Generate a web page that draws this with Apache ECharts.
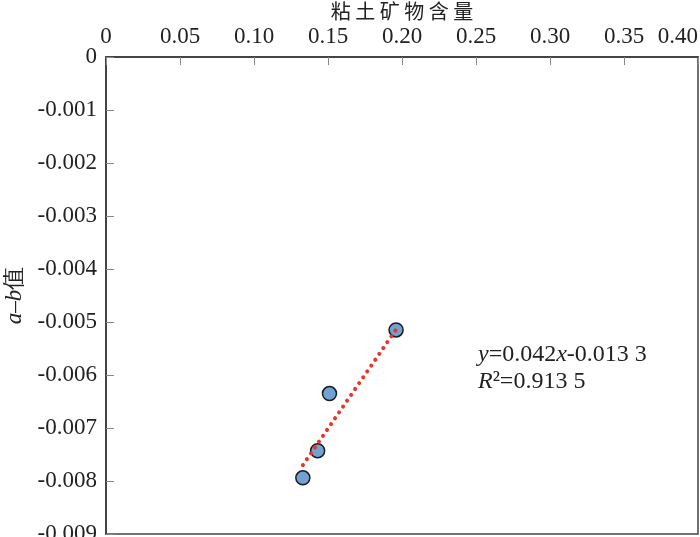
<!DOCTYPE html>
<html>
<head>
<meta charset="utf-8">
<script src="https://cdn.jsdelivr.net/npm/echarts@6/dist/echarts.min.js"></script>
<style>
  html, body { margin: 0; padding: 0; background: #fff; }
  #chart { width: 700px; height: 537px; }
</style>
</head>
<body>
<div id="chart"></div>
<script>
// 粘土矿物含量 (x) 与 a-b 值 (y)
var clayContent = [0.133, 0.143, 0.151, 0.196];
var abValue = [-0.00794, -0.00743, -0.00635, -0.00515];
// 拟合线两端
var trendX = [0.133, 0.197];
var trendY = [-0.0077, -0.0051];
// 刻度
var xTicks = ["0", "0.05", "0.10", "0.15", "0.20", "0.25", "0.30", "0.35", "0.40"];
var yTicks = ["0", "-0.001", "-0.002", "-0.003", "-0.004", "-0.005", "-0.006", "-0.007", "-0.008", "-0.009"];

var serif = "'Liberation Serif', 'DejaVu Serif', serif";
var cjk = "'Noto Sans CJK SC', sans-serif";

var points = clayContent.map(function (x, i) { return [x, abValue[i]]; });
var trend = trendX.map(function (x, i) { return [x, trendY[i]]; });

var myChart = echarts.init(document.getElementById("chart"));
var option = {
  animation: false,
  backgroundColor: "#fff",
  grid: {
    left: 106, top: 57, width: 592, height: 477,
    outerBoundsMode: "none",
    containLabel: false,
    show: true, borderColor: "#444", borderWidth: 1.5, backgroundColor: "transparent"
  },
  xAxis: {
    type: "value",
    position: "top",
    min: 0, max: 0.4, interval: 0.05,
    name: "粘 土 矿 物 含 量",
    nameLocation: "middle",
    nameGap: 36,
    nameMoveOverlap: false,
    nameTextStyle: { fontFamily: cjk, fontSize: 20, color: "#222" },
    axisLine: { show: true, lineStyle: { color: "#444", width: 2 } },
    axisTick: { show: true, inside: true, length: 8, lineStyle: { color: "#888" } },
    splitLine: { show: false },
    axisLabel: {
      margin: 9,
      fontFamily: serif, fontSize: 23, color: "#222",
      alignMaxLabel: "right",
      formatter: function (v) { return xTicks[Math.round(v / 0.05)]; }
    }
  },
  yAxis: {
    type: "value",
    min: -0.009, max: 0, interval: 0.001,
    name: "{i|a}–{i|b}值",
    nameLocation: "middle",
    nameRotate: 90,
    nameGap: 80,
    nameMoveOverlap: false,
    nameTextStyle: {
      fontFamily: serif, fontSize: 23, color: "#222",
      rich: { i: { fontFamily: serif, fontStyle: "italic", fontSize: 23, color: "#222" } }
    },
    axisLine: { show: true, lineStyle: { color: "#444", width: 2 } },
    axisTick: { show: true, inside: true, length: 8, lineStyle: { color: "#888" } },
    splitLine: { show: false },
    axisLabel: {
      margin: 9,
      fontFamily: serif, fontSize: 23, color: "#222",
      formatter: function (v) { return yTicks[Math.round(-v / 0.001)]; }
    }
  },
  series: [
    {
      type: "scatter",
      data: points,
      symbolSize: 14,
      itemStyle: { color: "#70a2d3", borderColor: "#1a1a1a", borderWidth: 1.5, opacity: 1 },
      z: 2
    },
    {
      type: "line",
      data: trend,
      symbol: "none",
      lineStyle: { color: "#e8362a", width: 4, type: [0.1, 7], cap: "round" },
      z: 3
    }
  ],
  graphic: [
    {
      type: "text",
      left: 478, top: 341,
      style: {
        text: "{i|y}=0.042{i|x}-0.013 3\n{i|R}²=0.913 5",
        fontFamily: serif, fontSize: 24, fill: "#222", lineHeight: 27,
        rich: { i: { fontFamily: serif, fontStyle: "italic", fontSize: 24, lineHeight: 27 } }
      }
    }
  ]
};
myChart.setOption(option);
</script>
</body>
</html>
